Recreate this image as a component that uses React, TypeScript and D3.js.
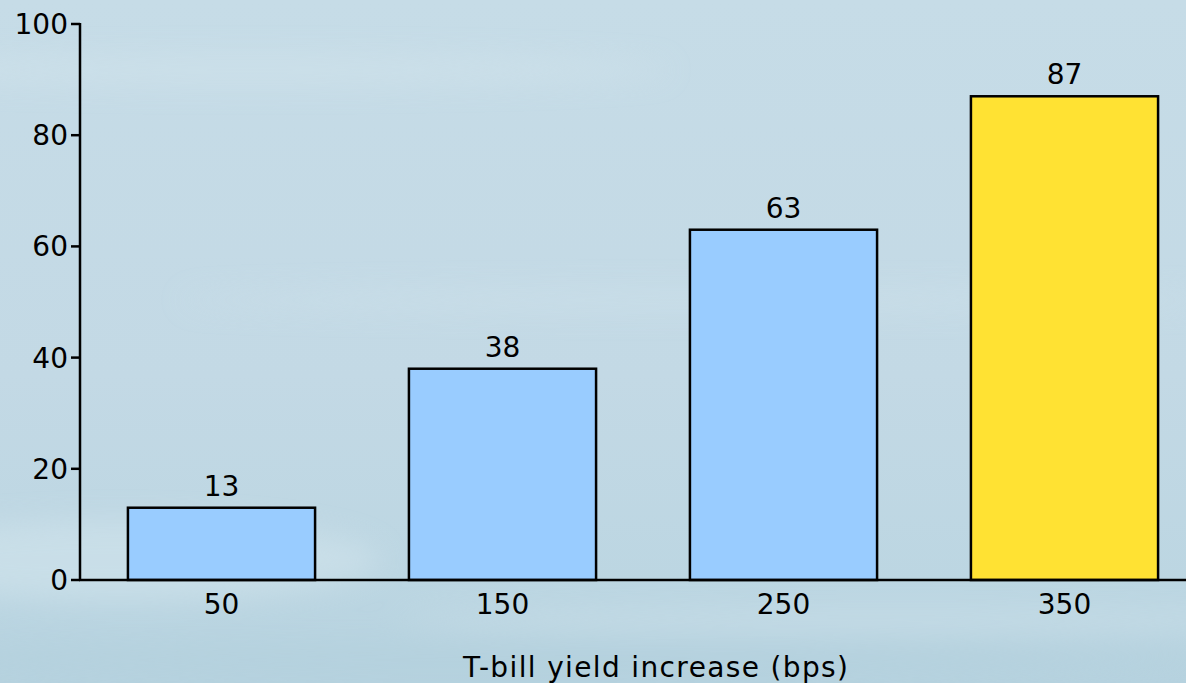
import React from "react";
import * as d3 from "d3";

// Probability (%) by size of T-bill yield increase
const categories: string[] = ["50", "150", "250", "350"];
const values: number[] = [13, 38, 63, 87];
const barColors: string[] = ["#99ccff", "#99ccff", "#99ccff", "#ffe233"];
const yTicks: number[] = [0, 20, 40, 60, 80, 100];
const xTitle = "T-bill yield increase (bps)";

const W = 1186;
const H = 683;
const FONT = "'DejaVu Sans', Verdana, sans-serif";
const FS = 28;

export default function App() {
  const x = d3
    .scaleBand<string>()
    .domain(categories)
    .range([81, 1205])
    .paddingInner(0.334)
    .paddingOuter(0.167);
  const y = d3.scaleLinear().domain([0, 100]).range([580, 24]);

  const x0 = 80;
  const y0 = y(0);

  return (
    <svg
      width={W}
      height={H}
      style={{ position: "absolute", left: 0, top: 0, display: "block" }}
    >
      <defs>
        <linearGradient id="bg" x1="0" y1="0" x2="0" y2="1">
          <stop offset="0" stopColor="#c6dce7" />
          <stop offset="0.55" stopColor="#c3d9e5" />
          <stop offset="0.85" stopColor="#bcd6e2" />
          <stop offset="1" stopColor="#b6d2df" />
        </linearGradient>
        <filter id="soft" x="-20%" y="-50%" width="140%" height="200%">
          <feGaussianBlur stdDeviation="14" />
        </filter>
      </defs>

      {/* backdrop */}
      <rect x={0} y={0} width={W} height={H} fill="url(#bg)" />
      <g filter="url(#soft)" opacity={0.55}>
        <ellipse cx={250} cy={70} rx={420} ry={14} fill="#d2e4ec" />
        <ellipse cx={700} cy={300} rx={520} ry={10} fill="#cfe2eb" />
        <ellipse cx={120} cy={560} rx={260} ry={40} fill="#d3e5ed" />
        <ellipse cx={900} cy={620} rx={500} ry={12} fill="#cde1ea" />
        <ellipse cx={500} cy={660} rx={700} ry={18} fill="#b3d0dd" />
      </g>

      {/* bars */}
      {categories.map((c, i) => (
        <rect
          key={c}
          x={x(c)}
          y={y(values[i])}
          width={x.bandwidth()}
          height={y0 - y(values[i])}
          fill={barColors[i]}
          stroke="#000"
          strokeWidth={2.5}
        />
      ))}

      {/* value labels */}
      {categories.map((c, i) => (
        <text
          key={"v" + c}
          x={(x(c) as number) + x.bandwidth() / 2}
          y={y(values[i]) - 12}
          textAnchor="middle"
          fontFamily={FONT}
          fontSize={FS}
          fill="#000"
        >
          {values[i]}
        </text>
      ))}

      {/* y axis */}
      <line x1={x0} x2={x0} y1={y(100) - 1} y2={y0 + 1} stroke="#000" strokeWidth={2.5} />
      {yTicks.map((t) => (
        <g key={"t" + t}>
          <line x1={x0 - 9} x2={x0} y1={y(t)} y2={y(t)} stroke="#000" strokeWidth={2.5} />
          <text
            x={x0 - 12}
            y={y(t)}
            dy="0.36em"
            textAnchor="end"
            fontFamily={FONT}
            fontSize={FS}
            fill="#000"
          >
            {t}
          </text>
        </g>
      ))}

      {/* x axis */}
      <line x1={x0 - 1} x2={W} y1={y0} y2={y0} stroke="#000" strokeWidth={2.5} />
      {categories.map((c) => (
        <text
          key={"x" + c}
          x={(x(c) as number) + x.bandwidth() / 2}
          y={y0 + 34}
          textAnchor="middle"
          fontFamily={FONT}
          fontSize={FS}
          fill="#000"
        >
          {c}
        </text>
      ))}
      <text
        x={463}
        y={677}
        textLength={385}
        lengthAdjust="spacing"
        fontFamily={FONT}
        fontSize={FS}
        fill="#000"
      >
        {xTitle}
      </text>
    </svg>
  );
}
